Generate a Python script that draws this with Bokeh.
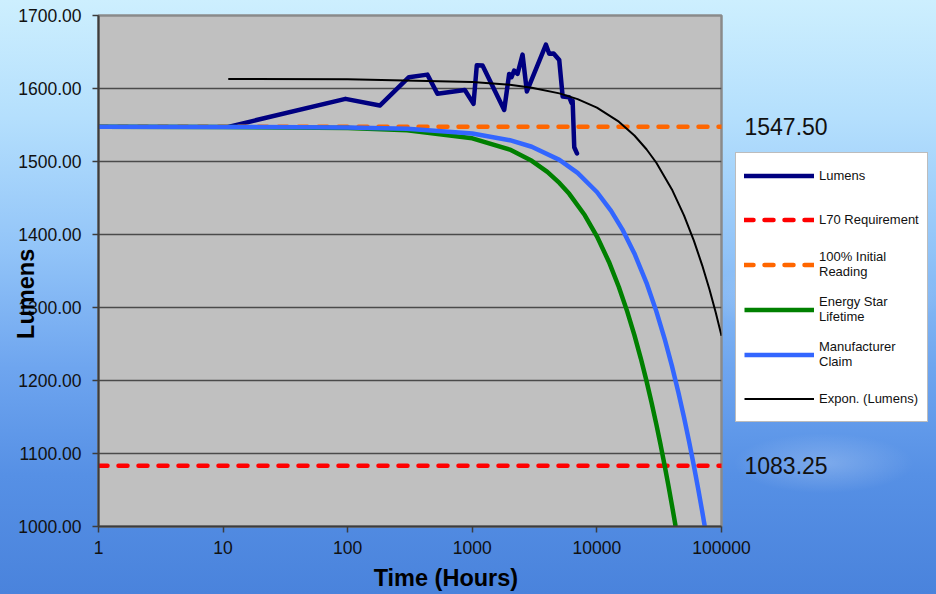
from bokeh.plotting import figure
from bokeh.models import Range1d, FixedTicker, PrintfTickFormatter, Legend, LegendItem, Label
from bokeh.layouts import row
from bokeh.embed import file_html
from bokeh.resources import INLINE

# ---------------- data ----------------
lumens_hours = [11, 96, 181, 310, 436, 525, 871, 1023, 1087, 1208, 1803, 1977, 2065,
                2168, 2307, 2531, 2741, 3899, 4143, 4494, 4985, 5311, 6000, 6270,
                6385, 6580, 6918]
lumens_values = [1547.5, 1585.8, 1576.6, 1615.5, 1619.0, 1592.7, 1598.0, 1579.0, 1632.0,
                 1631.5, 1570.7, 1620.0, 1615.5, 1624.6, 1620.0, 1646.5, 1596.0, 1660.0,
                 1647.5, 1648.0, 1639.0, 1589.0, 1588.0, 1580.0, 1583.5, 1519.5, 1511.0]

l70_value = 1083.25
initial_value = 1547.50
span_hours = [1, 100000]

energy_star_hours = [1, 10, 100, 300, 1000, 2000, 3000, 4000, 5000, 6000, 8000, 10000,
                     12500, 15000, 17500, 20000, 22500, 25000, 27500, 30000, 32500,
                     35000, 37500, 40000, 42800]
energy_star_values = [1547.5, 1547.3, 1545.9, 1542.8, 1531.8, 1516.3, 1500.9, 1485.7,
                      1470.6, 1455.7, 1426.3, 1397.6, 1362.4, 1328.1, 1294.7, 1262.2,
                      1230.4, 1199.5, 1169.3, 1139.9, 1111.2, 1083.25, 1056.0, 1029.4,
                      1000.5]

manufacturer_hours = [1, 10, 100, 300, 1000, 2000, 3000, 5000, 7000, 10000, 13000, 16000,
                      20000, 25000, 30000, 35000, 40000, 45000, 50000, 55000, 60000,
                      65000, 70000, 73400]
manufacturer_values = [1547.5, 1547.4, 1546.6, 1544.7, 1538.3, 1529.2, 1520.2, 1502.2,
                       1484.4, 1458.2, 1432.4, 1407.1, 1374.0, 1333.8, 1294.7, 1256.8,
                       1220.0, 1184.3, 1149.6, 1115.9, 1083.25, 1051.5, 1020.7, 1000.3]

trend_hours = [11, 100, 1000, 2000, 3000, 5000, 7000, 10000, 15000, 20000, 25000, 30000,
               40000, 50000, 60000, 70000, 80000, 90000, 100000]
trend_values = [1613.0, 1612.6, 1609.0, 1605.1, 1601.1, 1593.3, 1585.5, 1573.8, 1554.6,
                1535.6, 1516.8, 1498.3, 1461.8, 1426.3, 1391.7, 1357.8, 1324.9, 1292.7,
                1261.2]

y_ticks = [1000, 1100, 1200, 1300, 1400, 1500, 1600, 1700]
x_ticks = [1, 10, 100, 1000, 10000, 100000]
x_tick_labels = ["1", "10", "100", "1000", "10000", "100000"]

series_labels = ["Lumens", "L70 Requirement", "100% Initial\nReading",
                 "Energy Star\nLifetime", "Manufacturer\nClaim", "Expon. (Lumens)"]
x_title = "Time (Hours)"
y_title = "Lumens"

# ---------------- styles ----------------
FONT = "Liberation Sans"
NBSP = "\u00a0"
styles = [
    dict(line_color="#000080", line_width=4.5, line_join="round", line_cap="round"),
    dict(line_color="#FF0000", line_width=4.5, line_dash="9 11", line_cap="round"),
    dict(line_color="#FF6600", line_width=4.5, line_dash="9 11", line_cap="round"),
    dict(line_color="#008000", line_width=4.5),
    dict(line_color="#3366FF", line_width=4.5),
    dict(line_color="#000000", line_width=2),
]

series = [(lumens_hours, lumens_values),
          (span_hours, [l70_value, l70_value]),
          (span_hours, [initial_value, initial_value]),
          (energy_star_hours, energy_star_values),
          (manufacturer_hours, manufacturer_values),
          (trend_hours, trend_values)]

y_range = Range1d(1000, 1700)

# ---------------- main chart ----------------
p = figure(width=936, height=594, x_axis_type="log",
           x_range=Range1d(1, 100000), y_range=y_range,
           output_backend="svg", toolbar_location=None,
           min_border_left=98, min_border_right=215, min_border_top=15,
           min_border_bottom=68)

p.border_fill_color = None
p.background_fill_color = "#C0C0C0"
p.outline_line_color = "#8a8a8a"
p.outline_line_width = 2.5

for ax in (p.xaxis, p.yaxis):
    ax.axis_line_color = "#3c3c3c"
    ax.axis_line_width = 2
    ax.major_tick_line_color = "#3c3c3c"
    ax.major_tick_line_width = 1.5
    ax.major_tick_out = 6
    ax.major_tick_in = 0
    ax.minor_tick_line_color = None
    ax.major_label_text_font = FONT
    ax.major_label_text_font_size = "17.5px"
    ax.major_label_text_color = "#111111"
    ax.axis_label_text_font = FONT
    ax.axis_label_text_font_size = "23.5px"
    ax.axis_label_text_font_style = "bold"
    ax.axis_label_text_color = "#000000"

p.yaxis.ticker = FixedTicker(ticks=y_ticks)
p.yaxis.formatter = PrintfTickFormatter(format="%.2f")
p.yaxis.major_label_standoff = 11
p.yaxis.axis_label = y_title + NBSP * 7
p.yaxis.axis_label_standoff = -24

p.xaxis.ticker = FixedTicker(ticks=x_ticks)
p.xaxis.major_label_overrides = {t: s for t, s in zip(x_ticks, x_tick_labels)}
p.xaxis.major_label_standoff = 8
p.xaxis.axis_label = NBSP * 11 + x_title
p.xaxis.axis_label_standoff = 8

p.xgrid.visible = False
p.ygrid.grid_line_color = "#4a4a4a"
p.ygrid.grid_line_width = 1.5

for (xs, ys), st in zip(series, styles):
    p.line(xs, ys, **st)

# ---------------- right side overlay: value labels + legend ----------------
# same series, drawn against an x range that keeps them out of view: they only feed the legend
q = figure(width=213, height=594, x_range=Range1d(-2, -1), y_range=y_range,
           output_backend="svg", toolbar_location=None,
           x_axis_location=None, y_axis_location=None,
           min_border_left=0, min_border_right=0, min_border_top=15,
           min_border_bottom=68, margin=(0, 0, 0, -213))
q.border_fill_color = None
q.background_fill_color = None
q.outline_line_color = None
q.xgrid.visible = False
q.ygrid.visible = False

legend_renderers = [q.line(xs, ys, **st) for (xs, ys), st in zip(series, styles)]
legend = Legend(
    items=[LegendItem(label=lab, renderers=[r]) for lab, r in zip(series_labels, legend_renderers)],
    location=(12, 104), margin=0, padding=8, spacing=15,
    glyph_width=70, glyph_height=29, label_height=29, label_standoff=5,
    label_text_font=FONT, label_text_font_size="13px", label_text_color="#111111",
    background_fill_color="white", background_fill_alpha=1,
    border_line_color="#7a7a7a", border_line_width=1.5,
)
q.add_layout(legend)

for v in (initial_value, l70_value):
    q.add_layout(Label(x=21, x_units="screen", y=v, y_units="data", text=f"{v:.2f}",
                       text_font=FONT, text_font_size="23px", text_color="#111111",
                       text_align="left", text_baseline="middle"))

layout = row(p, q, spacing=0)
layout.styles = {
    "background": "radial-gradient(ellipse 120px 40px at 88% 50%, rgba(255,255,255,0.25), rgba(255,255,255,0) 100%),"
                  "radial-gradient(ellipse 90px 30px at 88% 78%, rgba(255,255,255,0.22), rgba(255,255,255,0) 100%),"
                  "linear-gradient(180deg, #cdeffe 0%, #b4dffd 20%, #92c4f8 42%, #6ea5ef 62%, #5690e5 80%, #4a83dc 100%)"
}

open("out.html", "w").write(file_html(layout, INLINE))
